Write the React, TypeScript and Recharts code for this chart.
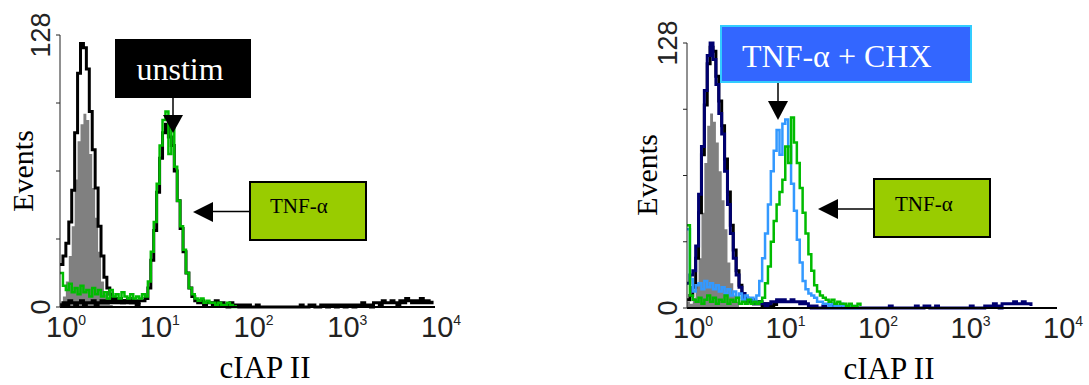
import React from 'react';
import { ComposedChart, Area, Line, XAxis, YAxis, Label } from 'recharts';

// x is channel bin: 32 bins per decade, 10^0 .. 10^4
const decadeTicks = [0, 32, 64, 96, 128];
const decadeExponents = ['0', '1', '2', '3', '4'];
const countTicks = [0, 32, 64, 96, 128];
const countLabels = [0, 128];

// left panel (unstim vs TNF-α)
const isotypeLeft = [2, 5, 12, 24, 38, 60, 78, 86, 91, 88, 72, 56, 42, 26, 12, 6, 3, 1, 0];
const controlLeft = [
  20, 24, 30, 40, 55, 82, 110, 124, 122, 112, 92, 74, 56, 38, 24, 14,
  9, 6, 4, 3, 4, 2, 3, 2, 3, 2, 1, 2,
];
const unstimLeft = [
  1, 2, 1, 3, 2, 1, 2, 3, 1, 2, 2, 3, 1, 2, 3, 2,
  3, 2, 4, 2, 3, 2, 3, 4, 2, 3, 2, 3, 3, 4, 9, 22,
  36, 54, 70, 82, 86, 80, 76, 64, 50, 37, 26, 16, 9, 5, 3, 2,
  3, 1, 2, 2, 1, 3, 1, 2, 1, 0, 2, 1, 1, 0, 1, 0,
  1, 0, 0, 1, 0, 0, 0, 0, 0, 0, 0, 0, 0, 0, 0, 0,
  0, 0, 1, 0, 0, 1, 1, 0, 0, 1, 1, 0, 1, 1, 0, 1,
  1, 0, 1, 1, 0, 1, 1, 2, 1, 1, 0, 2, 2, 1, 3, 2,
  2, 3, 2, 1, 3, 2, 4, 3, 2, 3, 2, 4, 2, 3, 2, 3,
];
const tnfLeft = [
  16, 10, 8, 11, 7, 9, 6, 10, 7, 8, 5, 9, 6, 8, 5, 7,
  4, 8, 5, 6, 4, 7, 5, 4, 6, 4, 5, 4, 6, 5, 12, 26,
  40, 58, 76, 88, 92, 72, 88, 66, 50, 38, 27, 16, 9, 6, 4, 3,
  4, 2, 3, 2, 2, 1, 2, 1, 1, 2, 1, 0, 1,
];

// right panel (TNF-α + CHX vs TNF-α)
const isotypeRight = [3, 2, 5, 12, 24, 46, 70, 88, 94, 90, 80, 66, 52, 38, 22, 12, 6, 3, 1];
const controlRight = [
  4, 6, 10, 24, 46, 74, 98, 118, 126, 124, 112, 100, 88, 72, 56, 40,
  28, 18, 11, 7, 5, 3, 4, 2, 3, 2, 1, 2, 1, 1, 2, 1,
];
const chxControlRight = [
  12, 16, 18, 30, 55, 78, 105, 122, 128, 120, 108, 94, 84, 66, 50, 36,
  24, 16, 10, 7, 5, 4, 3, 2, 2, 3, 2, 1, 2, 3, 3, 4,
  3, 4, 3, 3, 4, 3, 3, 2, 3, 2, 1, 0, 1, 0, 0, 1,
  0, 0, 1, 0, 0, 0, 1, 0, 0, 0, 0, 0, 0, 0, 0, 0,
  0, 0, 0, 0, 0, 0, 1, 0, 0, 0, 0, 0, 0, 0, 0, 1,
  0, 0, 1, 1, 0, 0, 1, 0, 0, 0, 0, 0, 0, 0, 0, 0,
  0, 0, 1, 0, 0, 0, 0, 1, 1, 1, 2, 1, 0, 2, 2, 2,
  2, 3, 2, 2, 3, 2, 2, 1,
];
const chxRight = [
  38, 14, 8, 11, 12, 9, 13, 10, 12, 9, 11, 8, 10, 7, 9, 6,
  8, 5, 7, 4, 6, 4, 5, 3, 6, 13, 24, 36, 50, 66, 76, 86,
  74, 89, 91, 78, 60, 47, 33, 22, 13, 9, 7, 6, 5, 3, 3, 2,
  2, 1, 2, 1, 1, 2, 1, 0, 1, 1, 0, 1,
];
const tnfRight = [
  40, 6, 4, 3, 5, 2, 4, 6, 3, 5, 2, 4, 3, 6, 2, 4,
  3, 5, 2, 3, 2, 4, 2, 3, 2, 3, 5, 12, 20, 32, 42, 50,
  56, 62, 78, 70, 92, 80, 70, 58, 46, 36, 26, 18, 11, 8, 6, 5,
  4, 3, 4, 2, 3, 2, 2, 1, 2, 1, 1, 2, 1,
];

const buildRows = (series: Record<string, number[]>) =>
  Array.from({ length: 128 }, (_, bin) => {
    const row: Record<string, number | null> = { bin };
    Object.keys(series).forEach((key) => {
      row[key] = series[key][bin] ?? null;
    });
    return row;
  });

const leftRows = buildRows({ iso: isotypeLeft, ctrl: controlLeft, unstim: unstimLeft, tnf: tnfLeft });
const rightRows = buildRows({
  iso: isotypeRight,
  ctrl: controlRight,
  chxCtrl: chxControlRight,
  chx: chxRight,
  tnf: tnfRight,
});

const DecadeTick = (props: any) => {
  const { x, y, payload } = props;
  const i = decadeTicks.indexOf(payload.value);
  return (
    <text x={x - 14} y={y + 30} fontFamily="Liberation Sans" fontSize={29} fill="#222">
      10
      <tspan dy={-12} fontSize={14}>
        {decadeExponents[i]}
      </tspan>
    </text>
  );
};

const CountTick = (props: any) => {
  const { x, y, payload } = props;
  if (!countLabels.includes(payload.value)) return <g />;
  const cx = x - 15;
  return (
    <text
      x={cx}
      y={y}
      transform={`rotate(-90 ${cx} ${y})`}
      textAnchor="middle"
      dominantBaseline="central"
      fontFamily="Liberation Sans"
      fontSize={27}
      fill="#222"
    >
      {payload.value}
    </text>
  );
};

const serif = 'Liberation Serif, Times New Roman, serif';

const axisTitle = (text: string, x: number, y: number, rotate: boolean) => () => (
  <text
    x={x}
    y={y}
    transform={rotate ? `rotate(-90 ${x} ${y})` : undefined}
    textAnchor="middle"
    dominantBaseline={rotate ? 'central' : 'auto'}
    fontFamily={serif}
    fontSize={rotate ? 30 : 31}
    fill="#000"
  >
    {text}
  </text>
);

const Histogram = ({
  rows,
  width,
  top,
  right,
  children,
  eventsPos,
  titlePos,
}: {
  rows: any[];
  width: number;
  top: number;
  right: number;
  children: React.ReactNode;
  eventsPos: [number, number];
  titlePos: [number, number];
}) => (
  <ComposedChart width={width} height={385} data={rows} margin={{ top, right, bottom: 0, left: 0 }}>
    <XAxis
      dataKey="bin"
      type="number"
      domain={[0, 128]}
      ticks={decadeTicks}
      interval={0}
      height={top === 35 ? 78 : 77}
      tickSize={0}
      tickMargin={0}
      tick={<DecadeTick />}
      axisLine={{ stroke: '#000', strokeWidth: 2 }}
    >
      <Label content={axisTitle('cIAP II', titlePos[0], titlePos[1], false)} />
    </XAxis>
    <YAxis
      type="number"
      domain={[0, 128]}
      ticks={countTicks}
      interval={0}
      width={60}
      tickSize={4}
      tickMargin={0}
      tick={<CountTick />}
      tickLine={{ stroke: '#222' }}
      axisLine={{ stroke: '#222', strokeWidth: 1 }}
    >
      <Label content={axisTitle('Events', eventsPos[0], eventsPos[1], true)} />
    </YAxis>
    {children}
  </ComposedChart>
);

const step = { type: 'stepAfter' as const, dot: false, isAnimationActive: false, connectNulls: false };

export default function App() {
  return (
    <div
      style={{
        position: 'absolute',
        left: 0,
        top: 0,
        width: 1089,
        height: 385,
        background: '#fff',
        overflow: 'hidden',
      }}
    >
      <div style={{ position: 'absolute', left: 0, top: 0 }}>
        <Histogram rows={leftRows} width={480} top={35} right={45} eventsPos={[22, 171]} titlePos={[265, 378]}>
          <Area type="stepAfter" dataKey="iso" stroke="none" fill="#808080" fillOpacity={1} isAnimationActive={false} />
          <Line {...step} dataKey="ctrl" stroke="#000" strokeWidth={3} />
          <Line {...step} dataKey="unstim" stroke="#000" strokeWidth={3} />
          <Line {...step} dataKey="tnf" stroke="#00bb00" strokeWidth={2.5} />
        </Histogram>
      </div>
      <div style={{ position: 'absolute', left: 627, top: 0 }}>
        <Histogram rows={rightRows} width={462} top={43} right={32} eventsPos={[19, 175]} titlePos={[262, 379]}>
          <Area type="stepAfter" dataKey="iso" stroke="none" fill="#808080" fillOpacity={1} isAnimationActive={false} />
          <Line {...step} dataKey="ctrl" stroke="#000" strokeWidth={3} />
          <Line {...step} dataKey="chxCtrl" stroke="#000070" strokeWidth={3} />
          <Line {...step} dataKey="chx" stroke="#3399ff" strokeWidth={2.5} />
          <Line {...step} dataKey="tnf" stroke="#00bb00" strokeWidth={2.5} />
        </Histogram>
      </div>

      <svg width={1089} height={385} style={{ position: 'absolute', left: 0, top: 0, pointerEvents: 'none' }}>
        {/* left annotations */}
        <rect x={115} y={39} width={136} height={59} fill="#000" />
        <text x={180} y={80} textAnchor="middle" fontFamily={serif} fontSize={32} fill="#fff">
          unstim
        </text>
        <line x1={173} y1={98} x2={173} y2={116} stroke="#000" strokeWidth={1.5} />
        <polygon points="163,115 183,115 173,133" fill="#000" />

        <rect x={250} y={182} width={116} height={58} fill="#99cc00" stroke="#000" strokeWidth={2} />
        <text x={270} y={213} fontFamily={serif} fontSize={21} fill="#000">
          TNF-α
        </text>
        <line x1={250} y1={211.5} x2={212} y2={211.5} stroke="#000" strokeWidth={1.5} />
        <polygon points="213,202 213,222 193,212" fill="#000" />

        {/* right annotations */}
        <rect x={721} y={26} width={250} height={56} fill="#3366ff" stroke="#33ccff" strokeWidth={2} />
        <text x={742} y={67} fontFamily={serif} fontSize={32} fill="#fff">
          TNF-α + CHX
        </text>
        <line x1={778} y1={83} x2={778} y2={102} stroke="#000" strokeWidth={1.5} />
        <polygon points="768,101 788,101 778,120" fill="#000" />

        <rect x={874} y={179} width={116} height={58} fill="#99cc00" stroke="#000" strokeWidth={2} />
        <text x={895} y={211} fontFamily={serif} fontSize={21} fill="#000">
          TNF-α
        </text>
        <line x1={874} y1={209} x2={837} y2={209} stroke="#000" strokeWidth={1.5} />
        <polygon points="838,199 838,219 818,209" fill="#000" />
      </svg>
    </div>
  );
}
